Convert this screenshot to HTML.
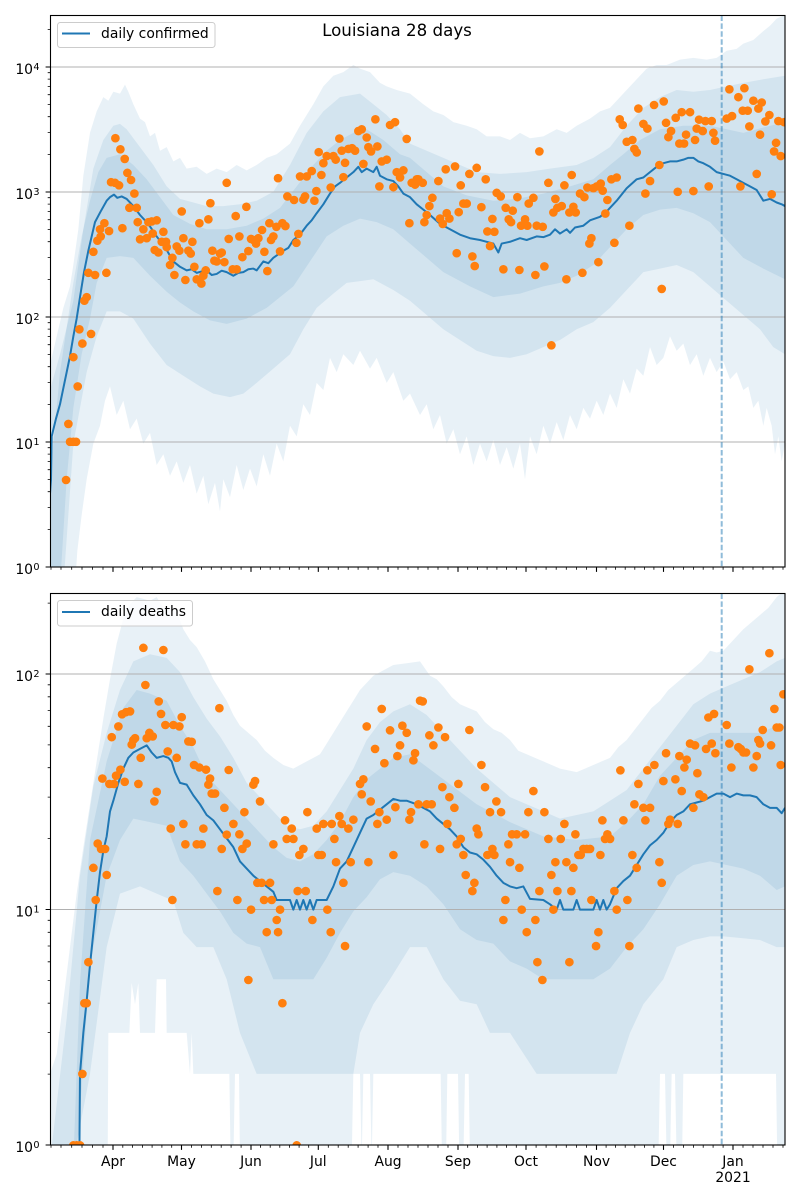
<!DOCTYPE html>
<html><head><meta charset="utf-8"><style>
html,body{margin:0;padding:0;background:#fff;}
svg{display:block;font-family:"DejaVu Sans","Liberation Sans",sans-serif;}
</style></head><body>
<svg width="800" height="1200" viewBox="0 0 800 1200" xmlns="http://www.w3.org/2000/svg">
<defs>
<clipPath id="c1"><rect x="50.5" y="15.5" width="734.5" height="551.5"/></clipPath>
<clipPath id="c2"><rect x="50.5" y="593.5" width="734.5" height="551.5"/></clipPath>
<path id="xt" d="M113 0v4.9M181.5 0v4.9M251 0v4.9M318.3 0v4.9M388 0v4.9M458 0v4.9M526 0v4.9M596.5 0v4.9M663.5 0v4.9M733 0v4.9" stroke="#000" stroke-width="1.1" fill="none"/>
<path id="xm" d="M51 0v2.8M61 0v2.8M71.7 0v2.8M82 0v2.8M92.5 0v2.8M103 0v2.8M122.8 0v2.8M132.6 0v2.8M142.4 0v2.8M152.1 0v2.8M161.9 0v2.8M171.7 0v2.8M191.4 0v2.8M201.4 0v2.8M211.3 0v2.8M221.2 0v2.8M231.1 0v2.8M241.1 0v2.8M260.6 0v2.8M270.2 0v2.8M279.8 0v2.8M289.5 0v2.8M299.1 0v2.8M308.7 0v2.8M328.3 0v2.8M338.2 0v2.8M348.2 0v2.8M358.1 0v2.8M368.1 0v2.8M378 0v2.8M398 0v2.8M408 0v2.8M418 0v2.8M428 0v2.8M438 0v2.8M448 0v2.8M467.7 0v2.8M477.4 0v2.8M487.1 0v2.8M496.9 0v2.8M506.6 0v2.8M516.3 0v2.8M536.1 0v2.8M546.1 0v2.8M556.2 0v2.8M566.3 0v2.8M576.4 0v2.8M586.4 0v2.8M606.1 0v2.8M615.6 0v2.8M625.2 0v2.8M634.8 0v2.8M644.4 0v2.8M653.9 0v2.8M673.4 0v2.8M683.4 0v2.8M693.4 0v2.8M703.2 0v2.8M713.1 0v2.8M723.1 0v2.8M743 0v2.8M753 0v2.8M763 0v2.8M773 0v2.8M783 0v2.8" stroke="#000" stroke-width="0.8" fill="none"/>
</defs>

<!-- ============ TOP PANEL ============ -->
<g clip-path="url(#c1)">
<g transform="translate(40 15) scale(0.333333 0.357143)">
<polygon fill="#1f77b4" fill-opacity="0.1" points="30,980 50,900 70,820 90,760 100,700 115,600 130,450 150,330 170,270 190,230 205,240 220,215 240,220 255,195 265,215 280,250 300,290 315,300 330,340 345,330 360,380 380,370 400,410 420,400 440,430 470,425 500,445 530,430 560,440 590,420 620,435 650,420 680,400 710,390 750,360 780,310 800,280 820,250 850,200 880,170 910,160 940,140 960,150 990,160 1020,190 1040,200 1070,210 1110,220 1150,250 1180,270 1210,280 1240,300 1280,310 1310,320 1340,340 1380,340 1410,350 1440,330 1470,345 1510,340 1550,320 1580,330 1610,310 1650,290 1680,270 1710,260 1740,230 1770,200 1790,180 1820,150 1850,140 1880,140 1920,125 1960,120 2000,125 2030,120 2060,100 2090,95 2110,80 2140,70 2170,45 2190,30 2210,10 2235,0 2235,1200 2225,1250 2215,1180 2205,1230 2195,1150 2180,1100 2170,1150 2155,1080 2140,1100 2125,1040 2110,1050 2090,1000 2070,1020 2050,970 2030,1000 2010,960 1990,1010 1970,950 1950,980 1930,920 1910,940 1890,900 1870,960 1850,980 1830,930 1810,1010 1790,990 1770,1060 1750,1020 1730,1100 1710,1060 1690,1120 1670,1080 1650,1130 1630,1100 1610,1160 1590,1120 1570,1190 1550,1140 1530,1200 1510,1150 1490,1230 1470,1180 1455,1300 1440,1200 1420,1270 1400,1210 1380,1260 1360,1190 1340,1250 1320,1200 1300,1260 1280,1180 1260,1230 1240,1160 1220,1200 1200,1120 1180,1160 1160,1090 1140,1120 1110,1060 1090,1080 1060,1000 1040,1030 1010,960 990,990 960,940 940,980 910,950 890,1000 870,960 850,1050 830,1030 810,1120 790,1090 770,1180 750,1150 730,1250 710,1200 690,1290 670,1230 650,1320 630,1270 610,1330 590,1260 570,1350 550,1300 540,1390 525,1310 505,1370 490,1290 470,1340 450,1260 430,1310 410,1250 390,1290 370,1230 350,1260 330,1170 310,1200 290,1130 270,1160 250,1080 230,1120 210,1040 195,1080 180,1150 160,1200 140,1300 125,1400 112,1500 105,1600 30,1600"/>
<polygon fill="#1f77b4" fill-opacity="0.1" points="30,1050 60,950 100,800 130,600 160,430 190,350 220,310 240,305 260,320 300,370 340,420 380,480 420,515 460,525 500,535 550,535 600,530 650,520 700,495 750,420 800,330 850,270 900,230 930,225 960,220 1000,250 1040,280 1080,320 1110,360 1160,380 1210,400 1260,420 1310,440 1380,445 1460,440 1530,430 1610,420 1660,400 1710,370 1760,310 1810,260 1860,230 1910,210 1960,215 2010,210 2060,200 2110,190 2170,180 2235,170 2235,950 2200,930 2160,880 2110,840 2060,800 2010,760 1960,720 1910,700 1860,710 1810,720 1760,770 1710,820 1660,860 1610,880 1560,910 1510,930 1460,950 1410,960 1360,955 1310,940 1260,910 1210,880 1160,840 1110,800 1060,770 1000,740 960,745 920,750 880,780 830,820 790,880 750,950 700,990 650,1030 610,1060 570,1070 520,1060 480,1040 430,1010 380,980 330,920 280,850 240,830 200,830 170,900 140,1000 120,1100 100,1200 85,1400 70,1600 30,1600"/>
<polygon fill="#1f77b4" fill-opacity="0.1" points="30,1300 60,1000 100,750 125,620 150,520 175,440 200,400 240,390 280,420 320,460 360,510 400,560 450,585 500,600 560,600 620,590 670,570 720,540 770,480 820,420 860,380 900,350 940,330 980,320 1030,350 1080,390 1110,400 1160,440 1210,480 1280,505 1360,520 1430,515 1510,500 1590,480 1660,460 1710,420 1750,390 1800,350 1860,320 1930,310 2010,310 2060,320 2110,330 2170,315 2235,300 2235,740 2170,710 2110,680 2060,630 2010,580 1960,555 1910,540 1860,545 1810,560 1760,600 1710,650 1660,700 1610,730 1560,750 1510,760 1440,780 1360,790 1290,760 1210,720 1160,680 1110,640 1060,600 1010,580 960,570 910,590 860,620 810,690 760,760 720,790 680,820 620,850 560,865 510,855 460,830 420,805 380,775 330,730 280,680 240,675 200,680 170,750 150,850 125,950 100,1100 80,1300 60,1600 30,1600"/>
</g>
</g>
<!-- grid top -->
<path d="M50.5 67H785M50.5 192H785M50.5 317H785M50.5 442H785" stroke="#b0b0b0" stroke-width="1.1" fill="none"/>
<line x1="721.7" y1="15.5" x2="721.7" y2="567" stroke="#1f77b4" stroke-opacity="0.5" stroke-width="2" stroke-dasharray="5.5 2.4"/>
<g clip-path="url(#c1)">
<g transform="translate(40 15) scale(0.333333 0.357143)">
<polyline fill="none" stroke="#1f77b4" stroke-width="2" vector-effect="non-scaling-stroke" stroke-linejoin="round" points="30,1340 33,1300 35,1180 48,1130 60,1090 70,1045 80,1000 90,955 100,900 110,850 120,790 132,720 145,660 155,620 165,580 182,550 200,520 210,510 222,503 232,512 245,508 260,515 280,535 300,560 325,585 350,620 375,650 400,690 420,705 440,715 455,712 470,722 485,718 500,715 515,728 530,725 545,716 560,720 580,730 595,722 610,720 625,712 640,710 650,715 670,690 685,695 700,680 730,660 745,652 760,630 780,615 800,590 815,575 830,555 850,530 870,500 885,480 900,470 920,455 940,440 955,425 965,440 980,430 1000,440 1010,425 1020,450 1040,460 1060,465 1075,480 1090,500 1110,510 1130,530 1150,545 1170,560 1200,585 1230,600 1260,615 1290,625 1320,630 1340,635 1360,640 1375,665 1385,640 1410,635 1440,625 1460,630 1490,620 1510,622 1530,615 1545,600 1560,612 1580,600 1590,610 1605,595 1630,590 1650,575 1680,565 1700,550 1730,520 1760,485 1790,460 1810,455 1830,440 1850,425 1870,415 1890,410 1910,410 1930,405 1945,400 1960,400 1975,410 1990,415 2010,425 2030,440 2050,445 2070,450 2090,460 2110,470 2130,480 2150,490 2160,505 2170,520 2190,515 2210,525 2225,530 2235,535"/>
<path fill="none" stroke="#ff7f0e" stroke-width="8.6" stroke-linecap="round" vector-effect="non-scaling-stroke" d="M78 1302h0.3M85 1145h0.3M90 1195h0.3M100 1195h0.3M108 1195h0.3M113 1040h0.3M100 958h0.3M127 920h0.3M118 880h0.3M153 893h0.3M133 800h0.3M140 790h0.3M145 722h0.3M165 728h0.3M199 722h0.3M160 663h0.3M172 632h0.3M182 620h0.3M180 600h0.3M193 583h0.3M207 605h0.3M247 597h0.3M213 468h0.3M225 470h0.3M237 477h0.3M226 345h0.3M241 376h0.3M254 403h0.3M262 442h0.3M273 462h0.3M283 500h0.3M268 540h0.3M290 540h0.3M293 580h0.3M300 628h0.3M310 600h0.3M320 625h0.3M325 580h0.3M335 578h0.3M350 575h0.3M338 612h0.3M344 658h0.3M355 665h0.3M365 635h0.3M370 607h0.3M378 635h0.3M380 650h0.3M390 700h0.3M397 680h0.3M403 728h0.3M410 648h0.3M418 660h0.3M425 550h0.3M430 625h0.3M436 742h0.3M445 660h0.3M452 668h0.3M457 635h0.3M463 705h0.3M470 740h0.3M478 583h0.3M484 752h0.3M490 730h0.3M497 715h0.3M505 572h0.3M511 527h0.3M517 660h0.3M523 688h0.3M530 690h0.3M540 668h0.3M545 665h0.3M553 692h0.3M560 470h0.3M566 627h0.3M578 712h0.3M587 563h0.3M590 712h0.3M598 620h0.3M607 678h0.3M619 537h0.3M625 661h0.3M633 627h0.3M640 630h0.3M648 640h0.3M655 625h0.3M666 602h0.3M673 663h0.3M682 717h0.3M688 583h0.3M693 630h0.3M700 620h0.3M709 593h0.3M714 457h0.3M720 662h0.3M727 583h0.3M736 591h0.3M742 508h0.3M762 518h0.3M769 638h0.3M775 613h0.3M780 452h0.3M790 517h0.3M795 508h0.3M800 452h0.3M815 437h0.3M823 520h0.3M829 493h0.3M836 384h0.3M844 448h0.3M850 415h0.3M860 395h0.3M872 483h0.3M880 395h0.3M887 405h0.3M898 346h0.3M905 380h0.3M910 454h0.3M915 414h0.3M925 375h0.3M936 373h0.3M945 380h0.3M955 325h0.3M965 320h0.3M970 417h0.3M980 343h0.3M985 370h0.3M993 382h0.3M1006 292h0.3M1012 368h0.3M1018 480h0.3M1025 410h0.3M1040 405h0.3M1050 308h0.3M1060 482h0.3M1065 300h0.3M1070 440h0.3M1080 455h0.3M1090 435h0.3M1100 347h0.3M1108 583h0.3M1115 470h0.3M1130 460h0.3M1125 475h0.3M1135 460h0.3M1148 470h0.3M1160 560h0.3M1153 580h0.3M1168 535h0.3M1177 512h0.3M1195 465h0.3M1200 570h0.3M1208 585h0.3M1217 432h0.3M1220 555h0.3M1228 570h0.3M1245 424h0.3M1250 667h0.3M1256 552h0.3M1262 477h0.3M1270 528h0.3M1280 528h0.3M1288 445h0.3M1297 676h0.3M1304 703h0.3M1310 428h0.3M1324 538h0.3M1337 460h0.3M1342 606h0.3M1350 647h0.3M1357 571h0.3M1363 607h0.3M1370 498h0.3M1382 508h0.3M1390 712h0.3M1397 540h0.3M1406 572h0.3M1413 580h0.3M1418 548h0.3M1432 510h0.3M1438 714h0.3M1443 590h0.3M1455 572h0.3M1462 590h0.3M1466 528h0.3M1480 512h0.3M1486 728h0.3M1490 590h0.3M1498 382h0.3M1508 593h0.3M1513 704h0.3M1525 470h0.3M1534 925h0.3M1540 553h0.3M1546 515h0.3M1552 540h0.3M1565 535h0.3M1573 477h0.3M1579 740h0.3M1588 553h0.3M1595 448h0.3M1600 537h0.3M1607 553h0.3M1620 500h0.3M1627 722h0.3M1633 510h0.3M1642 483h0.3M1648 640h0.3M1654 625h0.3M1660 485h0.3M1670 480h0.3M1675 692h0.3M1682 472h0.3M1688 492h0.3M1696 556h0.3M1702 518h0.3M1714 460h0.3M1723 638h0.3M1730 455h0.3M1739 292h0.3M1748 308h0.3M1760 355h0.3M1768 590h0.3M1777 350h0.3M1783 375h0.3M1790 385h0.3M1795 262h0.3M1810 305h0.3M1816 500h0.3M1822 318h0.3M1830 465h0.3M1842 252h0.3M1858 420h0.3M1865 767h0.3M1871 242h0.3M1878 302h0.3M1885 342h0.3M1893 325h0.3M1907 288h0.3M1913 495h0.3M1918 360h0.3M1925 272h0.3M1932 360h0.3M1938 335h0.3M1950 272h0.3M1960 493h0.3M1965 350h0.3M1970 318h0.3M1977 293h0.3M1988 325h0.3M1996 297h0.3M2006 480h0.3M2015 297h0.3M2020 330h0.3M2025 352h0.3M2060 290h0.3M2068 208h0.3M2076 283h0.3M2095 230h0.3M2101 480h0.3M2108 268h0.3M2113 205h0.3M2123 268h0.3M2128 312h0.3M2140 240h0.3M2150 445h0.3M2155 262h0.3M2160 335h0.3M2165 245h0.3M2176 298h0.3M2188 280h0.3M2195 502h0.3M2202 382h0.3M2208 358h0.3M2215 297h0.3M2222 395h0.3M2232 300h0.3"/>
</g>
</g>
<rect x="50.5" y="15.5" width="734.5" height="551.5" fill="none" stroke="#000" stroke-width="1.1"/>
<!-- top y ticks -->
<path d="M50.5 67h-4.9M50.5 192h-4.9M50.5 317h-4.9M50.5 442h-4.9M50.5 567h-4.9" stroke="#000" stroke-width="1.1" fill="none"/>
<path d="M50.5 529.4h-2.8M50.5 507.4h-2.8M50.5 491.7h-2.8M50.5 479.6h-2.8M50.5 469.7h-2.8M50.5 461.4h-2.8M50.5 454.1h-2.8M50.5 447.7h-2.8M50.5 404.4h-2.8M50.5 382.4h-2.8M50.5 366.7h-2.8M50.5 354.6h-2.8M50.5 344.7h-2.8M50.5 336.4h-2.8M50.5 329.1h-2.8M50.5 322.7h-2.8M50.5 279.4h-2.8M50.5 257.4h-2.8M50.5 241.7h-2.8M50.5 229.6h-2.8M50.5 219.7h-2.8M50.5 211.4h-2.8M50.5 204.1h-2.8M50.5 197.7h-2.8M50.5 154.4h-2.8M50.5 132.4h-2.8M50.5 116.7h-2.8M50.5 104.6h-2.8M50.5 94.7h-2.8M50.5 86.4h-2.8M50.5 79.1h-2.8M50.5 72.7h-2.8M50.5 29.4h-2.8" stroke="#000" stroke-width="0.8" fill="none"/>
<use href="#xt" transform="translate(0 567)"/>
<use href="#xm" transform="translate(0 567)"/>
<g font-size="13.9" fill="#000" text-anchor="end">
<text x="33" y="74">10</text><text x="39.5" y="70" font-size="9.7">4</text>
<text x="33" y="199">10</text><text x="39.5" y="195" font-size="9.7">3</text>
<text x="33" y="324">10</text><text x="39.5" y="320" font-size="9.7">2</text>
<text x="33" y="449">10</text><text x="39.5" y="445" font-size="9.7">1</text>
<text x="33" y="574">10</text><text x="39.5" y="570" font-size="9.7">0</text>
</g>
<text x="397" y="36" font-size="16.67" text-anchor="middle" fill="#000">Louisiana 28 days</text>
<rect x="57.5" y="22.5" width="157.5" height="25" rx="2.8" fill="#fff" fill-opacity="0.8" stroke="#cccccc" stroke-width="1"/>
<line x1="62" y1="33.5" x2="90" y2="33.5" stroke="#1f77b4" stroke-width="2"/>
<text x="101" y="38" font-size="13.9" fill="#000">daily confirmed</text>

<!-- ============ BOTTOM PANEL ============ -->
<g clip-path="url(#c2)">
<g transform="translate(40 590) scale(0.333333 0.357143)">
<polygon fill="#1f77b4" fill-opacity="0.1" points="30,1355 50,1300 70,1150 90,1000 110,850 130,720 150,600 170,480 190,360 210,250 230,150 250,80 270,40 290,20 310,25 330,30 350,20 370,50 390,45 410,60 430,110 450,140 470,160 495,200 520,250 540,280 560,310 580,350 600,380 625,400 650,420 675,450 700,470 730,490 760,500 780,490 800,480 820,470 840,460 860,430 880,400 900,370 920,340 940,310 960,280 980,260 1000,240 1030,225 1060,210 1100,205 1140,200 1170,240 1190,250 1210,270 1235,300 1260,320 1285,330 1310,340 1335,370 1360,390 1385,400 1410,420 1435,450 1460,460 1485,470 1510,480 1535,490 1560,500 1585,505 1610,510 1635,500 1660,490 1685,480 1710,470 1735,440 1760,420 1785,390 1810,360 1835,330 1860,310 1885,280 1910,260 1935,240 1960,220 1985,200 2010,170 2030,175 2050,170 2080,140 2110,110 2135,90 2160,70 2185,50 2210,20 2235,0 2235,1600 2212,1600 2208,1355 1930,1355 1926,1600 1910,1600 1905,1355 1895,1355 1890,1600 1880,1600 1875,1355 1860,1355 1855,1600 1830,1600 1290,1600 1286,1355 1275,1355 1270,1600 1258,1600 1254,1355 1222,1355 1218,1600 1206,1600 1202,1355 1110,1355 1000,1355 995,1600 990,1355 970,1355 965,1600 960,1355 940,1355 935,1600 600,1600 597,1355 585,1355 580,1600 572,1600 568,1355 460,1355 455,1240 450,1355 440,1240 380,1240 378,1090 350,1090 345,1240 300,1240 295,1100 285,1160 275,1100 268,1240 205,1240 203,1600 30,1600"/>
<polygon fill="#1f77b4" fill-opacity="0.1" points="30,1600 80,1200 120,800 160,550 200,400 240,280 280,200 330,180 380,190 420,230 460,300 500,360 540,410 580,470 620,540 660,580 700,620 740,660 780,670 820,660 860,620 900,560 940,500 980,420 1020,370 1060,340 1110,320 1160,350 1210,400 1260,450 1310,500 1360,540 1410,580 1460,600 1510,620 1560,640 1610,630 1660,620 1710,590 1760,560 1810,500 1860,440 1910,380 1960,320 2010,290 2060,270 2110,250 2160,230 2210,200 2235,190 2235,1000 2210,1000 2160,980 2110,975 2050,970 2010,970 1960,980 1910,1000 1870,1090 1810,1160 1770,1240 1730,1355 1490,1355 1410,1240 1350,1240 1310,1160 1260,1150 1210,1090 1160,1000 1110,1000 1050,1090 1000,1160 960,1240 940,1355 650,1355 600,1240 560,1090 520,1000 470,1000 430,960 400,870 350,850 300,830 240,850 200,1000 150,1355 100,1600"/>
<polygon fill="#1f77b4" fill-opacity="0.1" points="100,1600 120,1100 150,700 200,480 250,330 290,280 330,290 380,310 420,380 460,440 500,520 540,560 580,600 620,640 660,680 700,720 740,750 780,760 820,740 860,700 900,650 940,580 980,530 1020,500 1060,470 1110,460 1210,530 1310,600 1410,650 1510,690 1610,700 1710,690 1760,650 1810,600 1860,520 1910,470 1960,420 2010,400 2060,400 2110,400 2160,400 2210,380 2235,380 2235,830 2210,840 2160,800 2110,780 2060,770 2010,760 1960,770 1910,800 1860,880 1810,950 1760,1000 1710,1060 1660,1090 1510,1090 1460,1060 1410,1040 1360,990 1310,980 1260,950 1210,880 1160,830 1110,800 1060,790 1020,810 980,860 940,900 900,960 860,1030 820,1090 700,1090 660,1000 620,990 580,960 540,900 500,850 460,800 420,760 380,660 330,650 280,640 240,700 200,800 150,1050 110,1600"/>
</g>
</g>
<path d="M50.5 674H785M50.5 909.5H785" stroke="#b0b0b0" stroke-width="1.1" fill="none"/>
<line x1="721.7" y1="593.5" x2="721.7" y2="1145" stroke="#1f77b4" stroke-opacity="0.5" stroke-width="2" stroke-dasharray="5.5 2.4"/>
<g clip-path="url(#c2)">
<g transform="translate(40 590) scale(0.333333 0.357143)">
<polyline fill="none" stroke="#1f77b4" stroke-width="2" vector-effect="non-scaling-stroke" stroke-linejoin="round" points="118,1600 120,1355 130,1240 140,1150 150,1050 160,960 170,870 180,790 190,730 200,690 210,620 220,590 235,540 250,500 265,470 280,455 300,445 320,435 335,455 350,470 370,465 385,470 395,480 405,510 420,540 440,545 460,575 480,600 500,630 520,645 540,670 560,695 580,720 600,760 620,780 640,800 660,815 680,830 700,845 710,868 750,868 760,895 770,868 780,895 790,868 800,895 810,868 820,895 830,868 860,868 880,830 900,780 920,760 940,720 960,680 980,640 1000,630 1020,615 1040,600 1060,585 1080,590 1100,590 1130,600 1150,610 1170,620 1190,640 1210,655 1230,670 1250,690 1270,720 1290,735 1310,740 1330,755 1350,775 1370,800 1390,820 1410,830 1430,835 1450,830 1470,865 1510,868 1530,880 1550,895 1560,868 1570,895 1600,895 1610,868 1620,895 1660,895 1670,868 1680,895 1690,868 1700,895 1710,880 1730,835 1750,815 1770,800 1790,770 1810,740 1830,715 1850,700 1870,680 1890,650 1910,630 1930,620 1950,600 1970,595 1990,590 2010,580 2030,570 2050,570 2070,580 2090,570 2110,575 2130,575 2150,580 2170,600 2190,610 2210,610 2225,625 2235,610"/>
<path fill="none" stroke="#ff7f0e" stroke-width="8.6" stroke-linecap="round" vector-effect="non-scaling-stroke" d="M100 1555h0.3M110 1555h0.3M120 1555h0.3M127 1355h0.3M133 1157h0.3M140 1157h0.3M145 1042h0.3M167 868h0.3M160 778h0.3M173 710h0.3M183 725h0.3M195 725h0.3M200 798h0.3M187 528h0.3M208 543h0.3M215 412h0.3M222 543h0.3M228 520h0.3M235 382h0.3M241 503h0.3M246 348h0.3M254 537h0.3M258 342h0.3M270 340h0.3M275 433h0.3M280 420h0.3M285 415h0.3M295 543h0.3M302 470h0.3M310 162h0.3M316 266h0.3M320 415h0.3M328 400h0.3M338 410h0.3M343 592h0.3M350 565h0.3M356 312h0.3M363 347h0.3M370 168h0.3M376 378h0.3M383 452h0.3M392 668h0.3M397 868h0.3M400 378h0.3M410 470h0.3M418 382h0.3M425 356h0.3M430 655h0.3M436 712h0.3M445 424h0.3M455 425h0.3M462 490h0.3M470 712h0.3M478 497h0.3M485 712h0.3M490 668h0.3M498 503h0.3M505 545h0.3M510 528h0.3M515 570h0.3M525 570h0.3M532 843h0.3M538 331h0.3M545 725h0.3M553 610h0.3M560 685h0.3M566 504h0.3M580 655h0.3M592 868h0.3M598 684h0.3M607 725h0.3M613 622h0.3M620 710h0.3M625 1092h0.3M633 895h0.3M640 545h0.3M645 535h0.3M652 820h0.3M660 592h0.3M665 820h0.3M672 868h0.3M680 958h0.3M690 820h0.3M695 868h0.3M700 712h0.3M710 924h0.3M714 958h0.3M720 895h0.3M727 1157h0.3M735 645h0.3M740 697h0.3M755 668h0.3M760 697h0.3M770 1555h0.3M778 742h0.3M790 725h0.3M773 843h0.3M797 843h0.3M802 622h0.3M817 924h0.3M830 668h0.3M835 742h0.3M845 742h0.3M850 655h0.3M862 895h0.3M872 958h0.3M875 655h0.3M883 697h0.3M888 762h0.3M898 633h0.3M905 655h0.3M910 820h0.3M915 997h0.3M925 668h0.3M932 762h0.3M940 643h0.3M960 543h0.3M965 572h0.3M970 530h0.3M980 382h0.3M985 762h0.3M992 592h0.3M1005 445h0.3M1012 655h0.3M1018 622h0.3M1025 333h0.3M1033 485h0.3M1040 643h0.3M1050 393h0.3M1060 742h0.3M1066 608h0.3M1072 465h0.3M1080 435h0.3M1087 380h0.3M1100 400h0.3M1108 643h0.3M1113 622h0.3M1120 477h0.3M1125 457h0.3M1135 600h0.3M1140 310h0.3M1148 312h0.3M1153 712h0.3M1160 600h0.3M1168 407h0.3M1175 600h0.3M1180 435h0.3M1195 385h0.3M1200 725h0.3M1207 552h0.3M1215 412h0.3M1222 655h0.3M1228 580h0.3M1243 610h0.3M1250 712h0.3M1255 543h0.3M1262 697h0.3M1270 742h0.3M1277 798h0.3M1288 392h0.3M1297 843h0.3M1303 820h0.3M1310 668h0.3M1315 684h0.3M1324 490h0.3M1335 552h0.3M1342 742h0.3M1350 622h0.3M1357 725h0.3M1363 742h0.3M1369 592h0.3M1383 622h0.3M1390 924h0.3M1396 868h0.3M1405 712h0.3M1410 762h0.3M1416 684h0.3M1430 684h0.3M1438 778h0.3M1445 895h0.3M1455 684h0.3M1460 958h0.3M1465 622h0.3M1480 563h0.3M1486 924h0.3M1492 1042h0.3M1498 843h0.3M1507 1092h0.3M1513 622h0.3M1525 697h0.3M1534 798h0.3M1540 895h0.3M1546 762h0.3M1552 843h0.3M1562 697h0.3M1573 655h0.3M1579 762h0.3M1588 1042h0.3M1594 843h0.3M1600 778h0.3M1606 684h0.3M1615 742h0.3M1622 742h0.3M1630 725h0.3M1640 725h0.3M1650 725h0.3M1654 868h0.3M1668 997h0.3M1675 958h0.3M1681 742h0.3M1687 645h0.3M1695 697h0.3M1702 684h0.3M1710 697h0.3M1723 843h0.3M1730 895h0.3M1741 505h0.3M1750 645h0.3M1762 868h0.3M1768 997h0.3M1777 742h0.3M1783 600h0.3M1790 778h0.3M1795 543h0.3M1810 610h0.3M1816 645h0.3M1822 505h0.3M1830 610h0.3M1843 490h0.3M1858 762h0.3M1865 820h0.3M1870 535h0.3M1878 457h0.3M1885 655h0.3M1890 643h0.3M1906 530h0.3M1913 655h0.3M1918 465h0.3M1925 563h0.3M1933 497h0.3M1940 475h0.3M1950 430h0.3M1960 610h0.3M1965 435h0.3M1972 513h0.3M1978 572h0.3M1990 580h0.3M1998 445h0.3M2005 357h0.3M2015 430h0.3M2022 347h0.3M2026 457h0.3M2060 378h0.3M2068 430h0.3M2074 497h0.3M2095 440h0.3M2102 445h0.3M2110 455h0.3M2118 455h0.3M2128 222h0.3M2140 497h0.3M2150 465h0.3M2155 420h0.3M2160 430h0.3M2168 392h0.3M2188 177h0.3M2193 435h0.3M2203 333h0.3M2210 385h0.3M2218 385h0.3M2222 490h0.3M2230 292h0.3"/>
</g>
</g>
<rect x="50.5" y="593.5" width="734.5" height="551.5" fill="none" stroke="#000" stroke-width="1.1"/>
<path d="M50.5 674h-4.9M50.5 909.5h-4.9M50.5 1145h-4.9" stroke="#000" stroke-width="1.1" fill="none"/>
<path d="M50.5 1074.1h-2.8M50.5 1032.6h-2.8M50.5 1003.2h-2.8M50.5 980.4h-2.8M50.5 961.8h-2.8M50.5 946h-2.8M50.5 932.3h-2.8M50.5 920.3h-2.8M50.5 838.6h-2.8M50.5 797.1h-2.8M50.5 767.7h-2.8M50.5 744.9h-2.8M50.5 726.3h-2.8M50.5 710.5h-2.8M50.5 696.8h-2.8M50.5 684.8h-2.8M50.5 603.1h-2.8" stroke="#000" stroke-width="0.8" fill="none"/>
<use href="#xt" transform="translate(0 1145)"/>
<use href="#xm" transform="translate(0 1145)"/>
<g font-size="13.9" fill="#000" text-anchor="end">
<text x="33" y="681">10</text><text x="39.5" y="677" font-size="9.7">2</text>
<text x="33" y="916.5">10</text><text x="39.5" y="912.5" font-size="9.7">1</text>
<text x="33" y="1152">10</text><text x="39.5" y="1148" font-size="9.7">0</text>
</g>
<g font-size="13.9" fill="#000" text-anchor="middle">
<text x="113" y="1166">Apr</text>
<text x="181.5" y="1166">May</text>
<text x="251" y="1166">Jun</text>
<text x="318.3" y="1166">Jul</text>
<text x="388" y="1166">Aug</text>
<text x="458" y="1166">Sep</text>
<text x="526" y="1166">Oct</text>
<text x="596.5" y="1166">Nov</text>
<text x="663.5" y="1166">Dec</text>
<text x="733" y="1166">Jan</text>
<text x="733" y="1182">2021</text>
</g>
<rect x="57.5" y="600.5" width="135" height="25.5" rx="2.8" fill="#fff" fill-opacity="0.8" stroke="#cccccc" stroke-width="1"/>
<line x1="62" y1="612" x2="90" y2="612" stroke="#1f77b4" stroke-width="2"/>
<text x="101" y="616" font-size="13.9" fill="#000">daily deaths</text>
</svg>
</body></html>
